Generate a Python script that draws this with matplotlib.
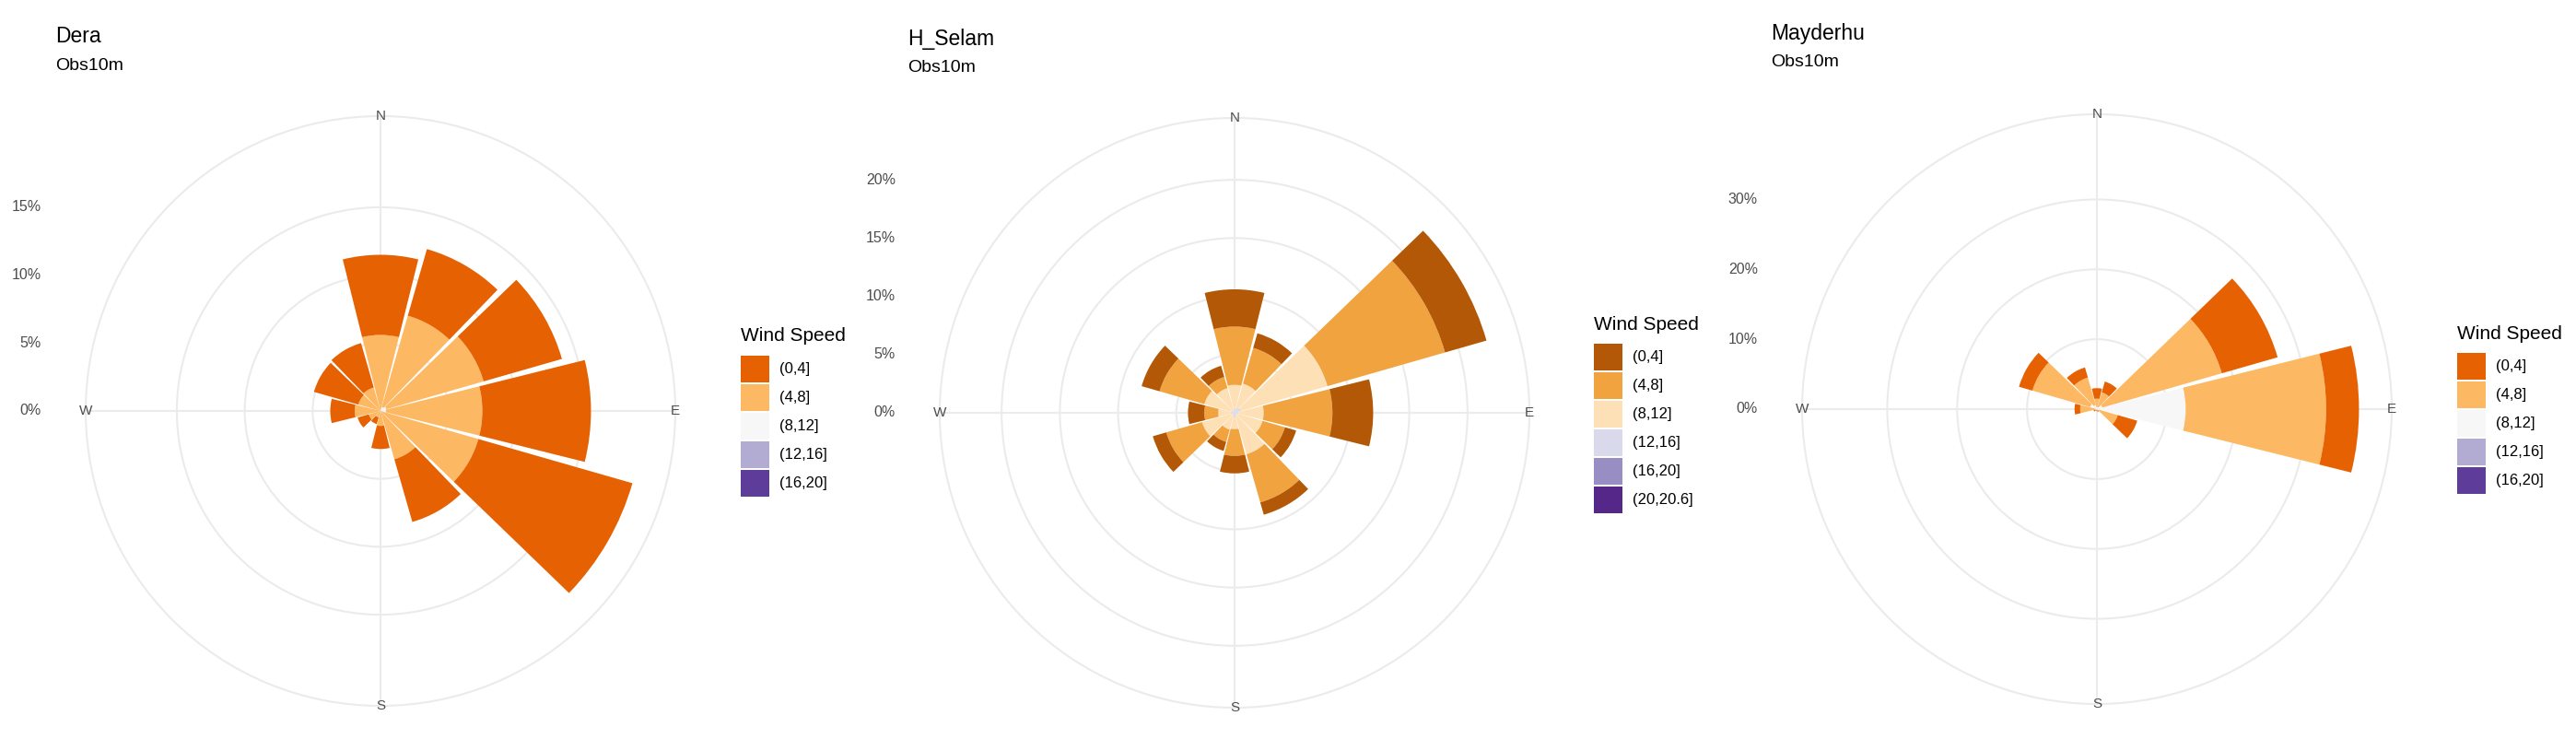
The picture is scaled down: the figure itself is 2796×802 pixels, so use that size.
import numpy as np
import matplotlib
matplotlib.use("Agg")
import matplotlib.pyplot as plt
from matplotlib.patches import Rectangle

plt.rcParams['font.family'] = ['Liberation Sans', 'DejaVu Sans']

W, H = 2796, 802

directions = [0, 30, 60, 90, 120, 150, 180, 210, 240, 270, 300, 330]

# Dera : percent per speed bin and direction
dera_bins = ['(0,4]', '(4,8]', '(8,12]', '(12,16]', '(16,20]']
dera_0_4 = [5.9, 5.1, 6.0, 8.0, 11.8, 4.8, 1.7, 0.5, 0.85, 1.8, 3.4, 3.4]
dera_4_8 = [5.6, 7.0, 7.45, 7.1, 7.5, 3.7, 1.1, 0.5, 0.9, 1.9, 1.7, 1.8]
dera_8_12 = [0, 0.3, 0.45, 0.4, 0, 0, 0, 0, 0, 0, 0, 0]

# H_Selam
selam_bins = ['(0,4]', '(4,8]', '(8,12]', '(12,16]', '(16,20]', '(20,20.6]']
selam_0_4 = [3.2, 1.3, 3.7, 3.5, 1.0, 1.1, 1.5, 0.8, 1.2, 1.4, 1.6, 1.0]
selam_4_8 = [5.0, 3.2, 10.5, 5.9, 2.0, 4.3, 2.3, 1.1, 3.2, 1.2, 4.0, 1.0]
selam_8_12 = [2.1, 2.1, 7.7, 2.2, 2.3, 3.4, 1.0, 1.3, 2.7, 1.1, 2.4, 2.0]
selam_12_16 = [0.3, 0.5, 0.6, 0.3, 0.2, 0.3, 0.4, 0.2, 0.2, 0.3, 0.3, 0.2]

# Mayderhu
may_bins = ['(0,4]', '(4,8]', '(8,12]', '(12,16]', '(16,20]']
may_0_4 = [1.5, 1.6, 8.3, 4.7, 2.9, 0.2, 0.1, 0.1, 0.2, 0.8, 2.0, 1.5]
may_4_8 = [1.2, 2.2, 17.8, 20.1, 2.8, 0.2, 0.2, 0.2, 0.3, 2.2, 8.6, 4.1]
may_8_12 = [0.3, 0.3, 0.8, 12.7, 0.3, 0, 0, 0, 0, 0.2, 1.0, 0.6]

puor5 = ['#E66101', '#FDB863', '#F7F7F7', '#B2ABD2', '#5E3C99']
puor6 = ['#B35806', '#F1A340', '#FEE0B6', '#D8DAEB', '#998EC3', '#542788']

panels = [
    dict(name='Dera', series=[dera_0_4, dera_4_8, dera_8_12], bins=dera_bins,
         colors=puor5, breaks=[0, 5, 10, 15], center=(413, 446),
         title=(60, 40), legend=(804, 365)),
    dict(name='H_Selam', series=[selam_0_4, selam_4_8, selam_8_12, selam_12_16],
         bins=selam_bins, colors=puor6, breaks=[0, 5, 10, 15, 20], center=(1340, 448),
         title=(985, 42), legend=(1730, 352)),
    dict(name='Mayderhu', series=[may_0_4, may_4_8, may_8_12], bins=may_bins,
         colors=puor5, breaks=[0, 10, 20, 30], center=(2276, 444),
         title=(1922, 37), legend=(2667, 362)),
]

fig = plt.figure(figsize=(W / 100, H / 100), dpi=100)
R = 320
grid_col = '#EBEBEB'
text_col = '#4D4D4D'


def fx(x):
    return x / W


def fy(y):
    return 1 - y / H


theta = np.radians(directions)
width = np.radians(28)

for p in panels:
    cx, cy = p['center']
    ax = fig.add_axes([fx(cx - R), fy(cy + R), 2 * R / W, 2 * R / H], projection='polar')
    ax.set_theta_zero_location('N')
    ax.set_theta_direction(-1)
    totals = np.sum(p['series'], axis=0)
    rmax = totals.max() * 1.125
    # stack from center: highest speed bin first
    bottom = np.zeros(len(directions))
    for i in range(len(p['series']) - 1, -1, -1):
        vals = np.array(p['series'][i])
        ax.bar(theta, vals, width=width, bottom=bottom, color=p['colors'][i],
               edgecolor='none', zorder=3)
        bottom += vals
    ax.set_ylim(0, rmax)
    ax.set_yticks(p['breaks'])
    ax.set_yticklabels([])
    ax.set_xticks(np.radians([0, 90, 180, 270]))
    ax.set_xticklabels([])
    ax.grid(color=grid_col, linewidth=1.5)
    ax.spines['polar'].set_color(grid_col)
    ax.spines['polar'].set_linewidth(1.5)
    for lab, ang in zip(['N', 'E', 'S', 'W'], [0, 90, 180, 270]):
        ax.text(np.radians(ang), rmax, lab, ha='center', va='center',
                fontsize=11, color=text_col, zorder=5)
    for b in p['breaks']:
        ax.text(-0.075, 0.5 + 0.5 * b / rmax, f'{b}%', transform=ax.transAxes,
                ha='right', va='center', fontsize=11.5, color=text_col)

    tx, ty = p['title']
    fig.text(fx(tx), fy(ty), p['name'], fontsize=16.5, va='center', ha='left')
    fig.text(fx(tx), fy(ty + 31), 'Obs10m', fontsize=14, va='center', ha='left')

    lx, ly = p['legend']
    fig.text(fx(lx), fy(ly), 'Wind Speed', fontsize=15, va='center', ha='left')
    for k, (lab, col) in enumerate(zip(p['bins'], p['colors'])):
        top = ly + 21 + k * 31
        fig.add_artist(Rectangle((fx(lx), fy(top + 29)), 31 / W, 29 / H,
                                 transform=fig.transFigure, facecolor=col,
                                 edgecolor='none'))
        fig.text(fx(lx + 42), fy(top + 14.5), lab, fontsize=12, va='center', ha='left')

fig.savefig('out.png', dpi=100, facecolor='white')
